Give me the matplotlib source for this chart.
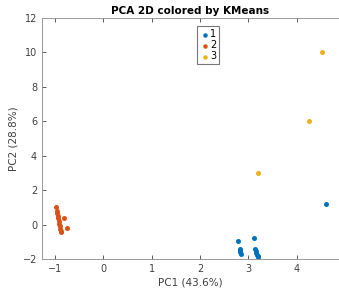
import matplotlib
matplotlib.use("Agg")
import matplotlib.pyplot as plt

# Cluster 1 (blue)
c1_x = [4.62, 2.79, 3.12, 2.82, 2.83, 2.84, 2.85, 3.15, 3.16, 3.17, 3.18, 3.20, 3.21]
c1_y = [1.18, -0.95, -0.80, -1.40, -1.50, -1.60, -1.70, -1.45, -1.55, -1.65, -1.75, -1.85, -1.90]
# Cluster 2 (orange)
c2_x = [-0.98, -0.96, -0.95, -0.94, -0.93, -0.92, -0.91, -0.90, -0.89, -0.88, -0.87, -0.81, -0.76]
c2_y = [1.02, 0.80, 0.65, 0.50, 0.35, 0.20, 0.05, -0.10, -0.25, -0.38, -0.45, 0.38, -0.18]
# Cluster 3 (yellow)
c3_x = [4.52, 4.26, 3.20]
c3_y = [10.0, 6.0, 3.0]

labels = ["1", "2", "3"]
colors = ["#0072BD", "#D95319", "#EDB120"]
xticks = [-1, 0, 1, 2, 3, 4]
yticks = [-2, 0, 2, 4, 6, 8, 10, 12]

fig = plt.figure(figsize=(3.39, 2.89), dpi=100)
ax = fig.add_axes([0.124, 0.104, 0.876, 0.834])
for xs, ys, lab, col in zip([c1_x, c2_x, c3_x], [c1_y, c2_y, c3_y], labels, colors):
    ax.scatter(xs, ys, s=13, color=col, label=lab, linewidths=0)

ax.set_xlim(-1.27, 4.88)
ax.set_ylim(-2, 12)
ax.set_xticks(xticks)
ax.set_yticks(yticks)
ax.tick_params(direction="in", top=True, right=False, labelsize=7, colors="#404040",
               length=3, width=0.6)
for s in ["left", "top", "bottom"]:
    ax.spines[s].set_color("#999999")
    ax.spines[s].set_linewidth(0.7)
ax.spines["right"].set_visible(False)
ax.set_title("PCA 2D colored by KMeans", fontsize=7.5, fontweight="bold", pad=3)
ax.set_xlabel("PC1 (43.6%)", fontsize=7.5, color="#404040", labelpad=3)
ax.set_ylabel("PC2 (28.8%)", fontsize=7.5, color="#404040", labelpad=3)
leg = ax.legend(loc="upper center", bbox_to_anchor=(0.56, 0.985), fontsize=7, handletextpad=0.1,
                handlelength=0.9, borderpad=0.3, labelspacing=0.1, fancybox=False,
                markerscale=0.9)
leg.get_frame().set_edgecolor("#555555")
leg.get_frame().set_linewidth(0.8)
fig.savefig("out.png", dpi=100)
